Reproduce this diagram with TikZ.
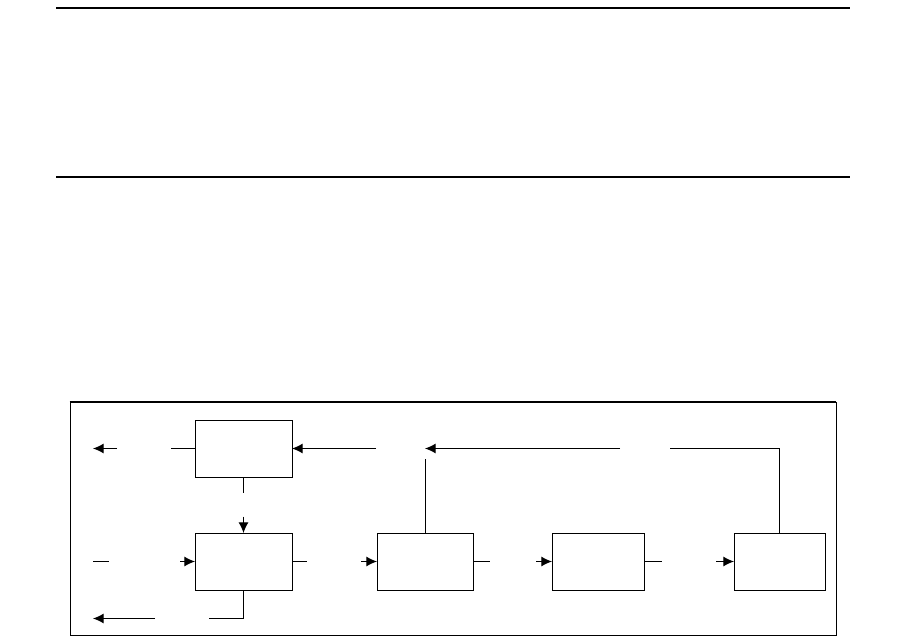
\documentclass[tikz,border=0pt]{standalone}
\usetikzlibrary{arrows.meta}
\begin{document}
\begin{tikzpicture}[x=0.75pt,y=-0.75pt,
  ln/.style={line width=0.75pt},
  arr/.style={line width=0.75pt,-{Latex[length=8pt,width=7.5pt]}},
  blk/.style={draw,line width=0.75pt,minimum height=42.75pt,inner sep=0pt,outer sep=0pt},
  rule/.style={line width=1.1pt}]
\useasboundingbox (0,0) rectangle (907,639);
% top rules
\coordinate (r1a) at (56,8); \coordinate (r1b) at (850,8);
\coordinate (r2a) at (56,177); \coordinate (r2b) at (850,177);
\draw[rule] (r1a) -- (r1b);
\draw[rule] (r2a) -- (r2b);
% frame
\draw[line width=0.75pt] (70,402) rectangle (836,635);
\draw[line width=1.5pt] (69.6,402.3) -- (836.4,402.3);
% boxes
\node[blk,minimum width=72.75pt] (A) at (243.5,448.5) {};
\node[blk,minimum width=72.75pt] (B) at (243.5,561.5) {};
\node[blk,minimum width=72pt]    (C) at (425,561.5) {};
\node[blk,minimum width=69pt]    (D) at (598,561.5) {};
\node[blk,minimum width=68.25pt] (E) at (779.5,561.5) {};
% top row
\coordinate (t1) at (117,448.5); \coordinate (t0) at (93,448.5);
\draw[arr] (t1) -- (t0);
\coordinate (t2) at (171,448.5);
\draw[ln] (t2) -- (A.west);
\coordinate (t3) at (376,448.5);
\draw[arr] (t3) -- (A.east);
\coordinate (t4) at (620,448.5); \coordinate (t5) at (425,448.5);
\draw[arr] (t4) -- (t5);
\coordinate (t6) at (670,448.5); \coordinate (t7) at (779.5,448.5);
\draw[ln] (t6) -- (t7) -- (E.north);
\coordinate (t8) at (425,459);
\draw[ln] (C.north) -- (t8);
% A to B
\coordinate (v1) at (243.5,493);
\draw[ln] (A.south) -- (v1);
\coordinate (v2) at (243.5,516.5);
\draw[arr] (v2) -- (B.north);
% middle row
\coordinate (m0) at (93,561.5); \coordinate (m1) at (109,561.5);
\draw[ln] (m0) -- (m1);
\coordinate (m2) at (180,561.5);
\draw[arr] (m2) -- (B.west);
\coordinate (m3) at (307,561.5);
\draw[ln] (B.east) -- (m3);
\coordinate (m4) at (361,561.5);
\draw[arr] (m4) -- (C.west);
\coordinate (m5) at (490,561.5);
\draw[ln] (C.east) -- (m5);
\coordinate (m6) at (536,561.5);
\draw[arr] (m6) -- (D.west);
\coordinate (m7) at (662,561.5);
\draw[ln] (D.east) -- (m7);
\coordinate (m8) at (716,561.5);
\draw[arr] (m8) -- (E.west);
% bottom row
\coordinate (b1) at (155,618.5); \coordinate (b0) at (93,618.5);
\draw[arr] (b1) -- (b0);
\coordinate (b2) at (243.5,618.5); \coordinate (b3) at (209,618.5);
\draw[ln] (B.south) -- (b2) -- (b3);
\end{tikzpicture}
\end{document}
